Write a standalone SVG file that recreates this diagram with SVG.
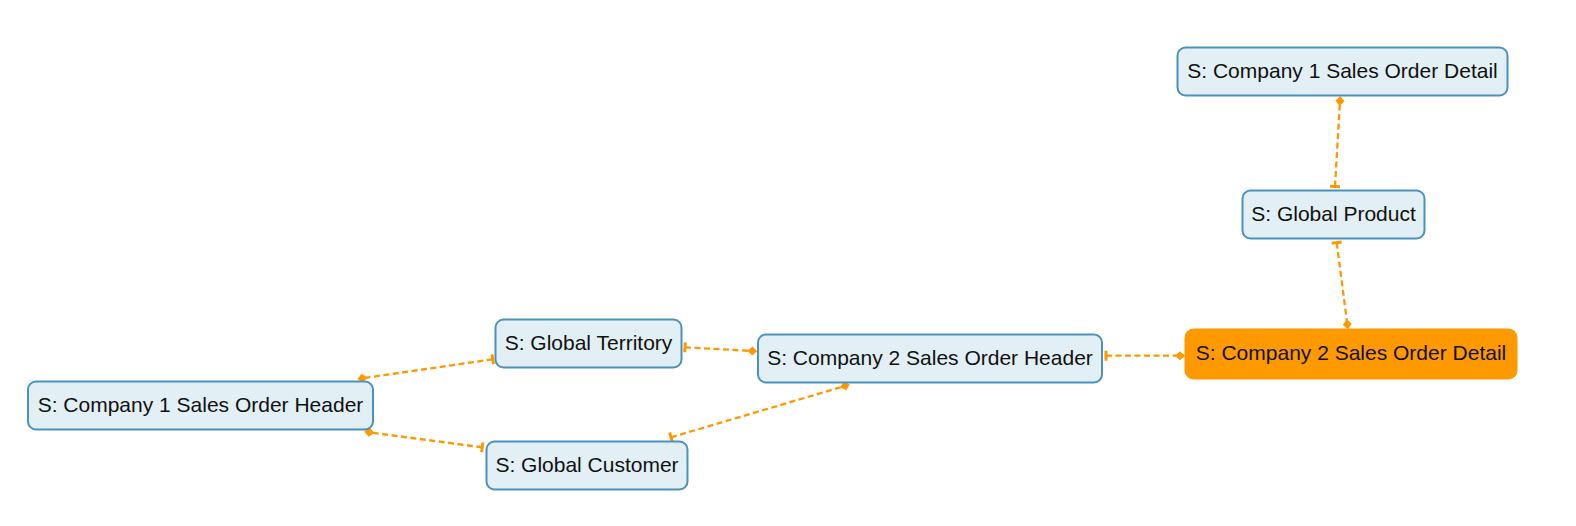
<svg xmlns="http://www.w3.org/2000/svg" width="1576" height="526" viewBox="0 0 1576 526">
<style>
.node rect{fill:#E2EFF5;stroke:#4A91C0;stroke-width:2}
.node.hl rect{fill:#FF9900;stroke:#FF9900}
.node text{font-family:"Liberation Sans",Arial,sans-serif;font-size:21px;fill:#111;text-anchor:middle}
.edge{fill:none;stroke:#FF9800;stroke-width:2.3;stroke-dasharray:6 3.5;marker-start:url(#bar);marker-end:url(#diamond)}
</style>
<defs>
<marker id="bar" markerUnits="userSpaceOnUse" viewBox="-7 -7 14 14" markerWidth="14" markerHeight="14" refX="0" refY="0" orient="auto">
<rect x="-1.5" y="-5" width="3" height="10" fill="#FF9800"/>
</marker>
<marker id="diamond" markerUnits="userSpaceOnUse" viewBox="-7 -7 14 14" markerWidth="14" markerHeight="14" refX="0" refY="0" orient="auto">
<polygon points="-5,0 0,-4.5 5,0 0,4.5" fill="#FF9800"/>
</marker>
</defs>
<rect width="1576" height="526" fill="#fff"/>
<g id="connectors">
<path class="edge" d="M1335,186.5 L1340,101"/>
<path class="edge" d="M1336.7,242.7 L1347.3,324.3"/>
<path class="edge" d="M1106,355.7 L1180,355.7"/>
<path class="edge" d="M685,347.3 L752.3,351"/>
<path class="edge" d="M492.7,359.3 L362.3,378.3"/>
<path class="edge" d="M482.3,447.3 L369.3,432.3"/>
<path class="edge" d="M671,437.3 L845,386"/>
</g>
<g id="c1-sod" class="node"><rect x="1177.5" y="47.5" width="330" height="48" rx="8"/><text x="1342.5" y="77.5">S: Company 1 Sales Order Detail</text></g>
<g id="global-product" class="node"><rect x="1242.5" y="190.5" width="182" height="48" rx="8"/><text x="1333.5" y="220.5">S: Global Product</text></g>
<g id="c2-sod" class="node hl"><rect x="1185.5" y="329.5" width="331" height="49" rx="8"/><text x="1351" y="360">S: Company 2 Sales Order Detail</text></g>
<g id="c2-soh" class="node"><rect x="758" y="334.5" width="344" height="48" rx="8"/><text x="930" y="364.5">S: Company 2 Sales Order Header</text></g>
<g id="global-territory" class="node"><rect x="495.5" y="319.5" width="186" height="48" rx="8"/><text x="588.5" y="349.5">S: Global Territory</text></g>
<g id="c1-soh" class="node"><rect x="28" y="381.5" width="345" height="48" rx="8"/><text x="200.5" y="411.5">S: Company 1 Sales Order Header</text></g>
<g id="global-customer" class="node"><rect x="486.5" y="441.5" width="201" height="48" rx="8"/><text x="587" y="471.5">S: Global Customer</text></g>
</svg>
